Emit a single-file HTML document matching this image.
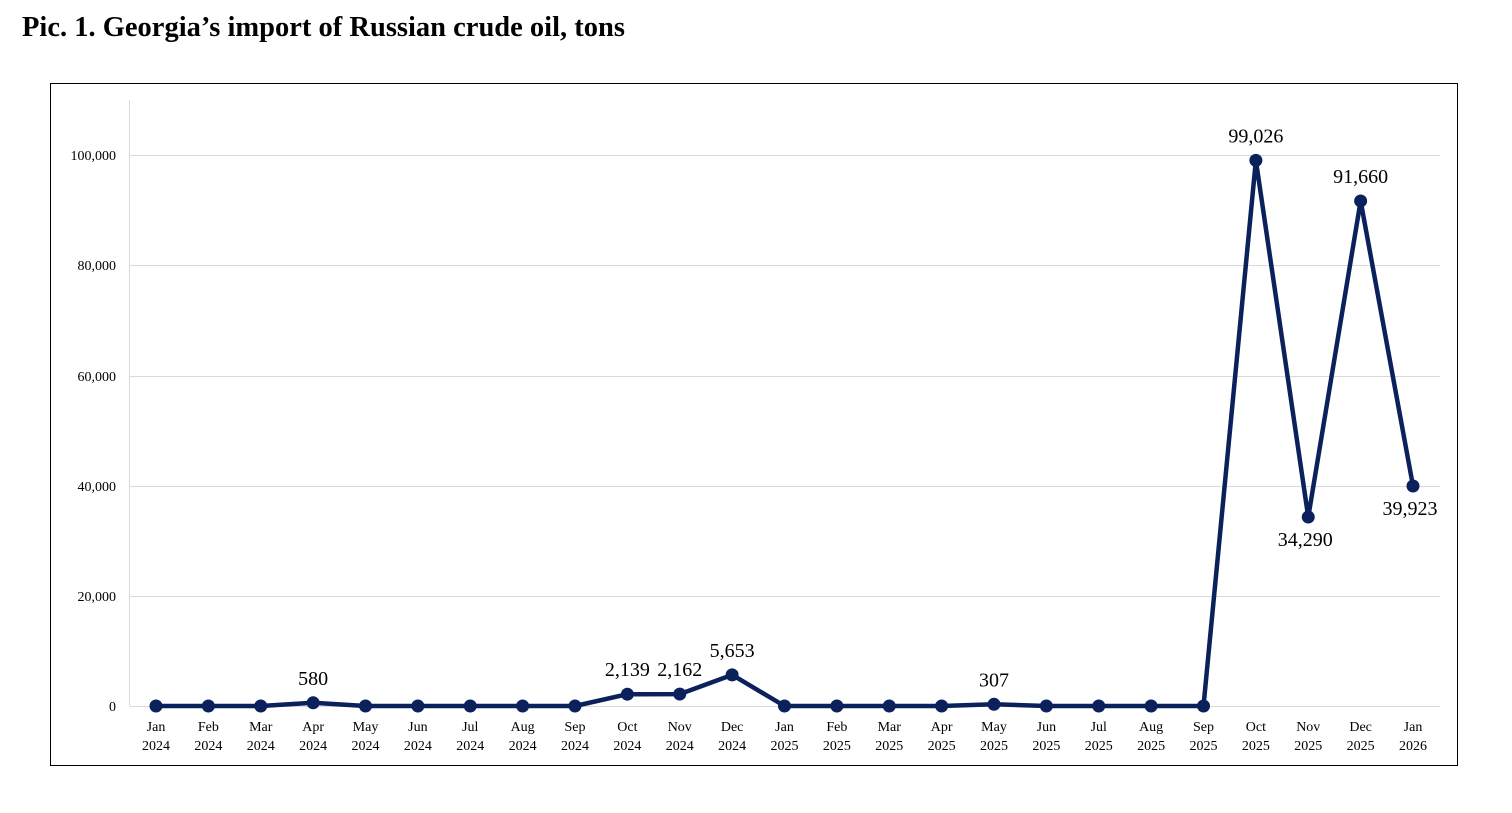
<!DOCTYPE html>
<html><head><meta charset="utf-8"><style>
html,body{margin:0;padding:0;background:#fff;}
body{width:1512px;height:808px;overflow:hidden;}
</style></head><body>
<svg width="1512" height="808" xmlns="http://www.w3.org/2000/svg" font-family="'Liberation Serif', serif">
<text x="22" y="36" font-size="28.5" font-weight="bold" fill="#000">Pic. 1. Georgia’s import of Russian crude oil, tons</text>
<rect x="50.5" y="83.5" width="1407" height="682" fill="#fff" stroke="#000" stroke-width="1"/>
<g stroke="#d9d9d9" stroke-width="1">
<line x1="130" x2="1440" y1="155.5" y2="155.5"/>
<line x1="130" x2="1440" y1="265.5" y2="265.5"/>
<line x1="130" x2="1440" y1="376.5" y2="376.5"/>
<line x1="130" x2="1440" y1="486.5" y2="486.5"/>
<line x1="130" x2="1440" y1="596.5" y2="596.5"/>
<line x1="130" x2="1440" y1="706.5" y2="706.5"/>
<line x1="129.5" x2="129.5" y1="100" y2="706"/>
</g>
<g font-size="14" text-anchor="end" fill="#000">
<text x="116" y="160">100,000</text>
<text x="116" y="270">80,000</text>
<text x="116" y="381">60,000</text>
<text x="116" y="491">40,000</text>
<text x="116" y="601">20,000</text>
<text x="116" y="711">0</text>
</g>
<g id="x" font-size="14" text-anchor="middle" fill="#000"></g>
<polyline id="ln" fill="none" stroke="#0a215c" stroke-width="4.5" stroke-linejoin="round"/>
<g id="pts" fill="#0a215c"></g>
<g id="lbl" font-size="20" text-anchor="middle" fill="#000"></g>
</svg>
<script>
var m=["Jan","Feb","Mar","Apr","May","Jun","Jul","Aug","Sep","Oct","Nov","Dec"];
var v=[0,0,0,580,0,0,0,0,0,2139,2162,5653,0,0,0,0,307,0,0,0,0,99026,34290,91660,39923];
var ns="http://www.w3.org/2000/svg",xg=document.getElementById("x"),pg=document.getElementById("pts"),lg=document.getElementById("lbl"),pts=[];
function t(g,x,y,s){var e=document.createElementNS(ns,"text");e.setAttribute("x",x);e.setAttribute("y",y);e.textContent=s;g.appendChild(e);}
for(var i=0;i<25;i++){
 var x=156+i*52.375,y=706-v[i]*0.00551;
 pts.push(x+","+y);
 t(xg,x,731,m[i%12]);t(xg,x,750,2024+Math.floor(i/12));
 var c=document.createElementNS(ns,"circle");c.setAttribute("cx",x);c.setAttribute("cy",y);c.setAttribute("r",6.5);pg.appendChild(c);
 if(v[i]>0){
  var s=v[i].toLocaleString("en-US");
  if(i==22||i==24)t(lg,x-3,y+29,s);else t(lg,x,y-18,s);
 }
}
document.getElementById("ln").setAttribute("points",pts.join(" "));
</script>
</body></html>
